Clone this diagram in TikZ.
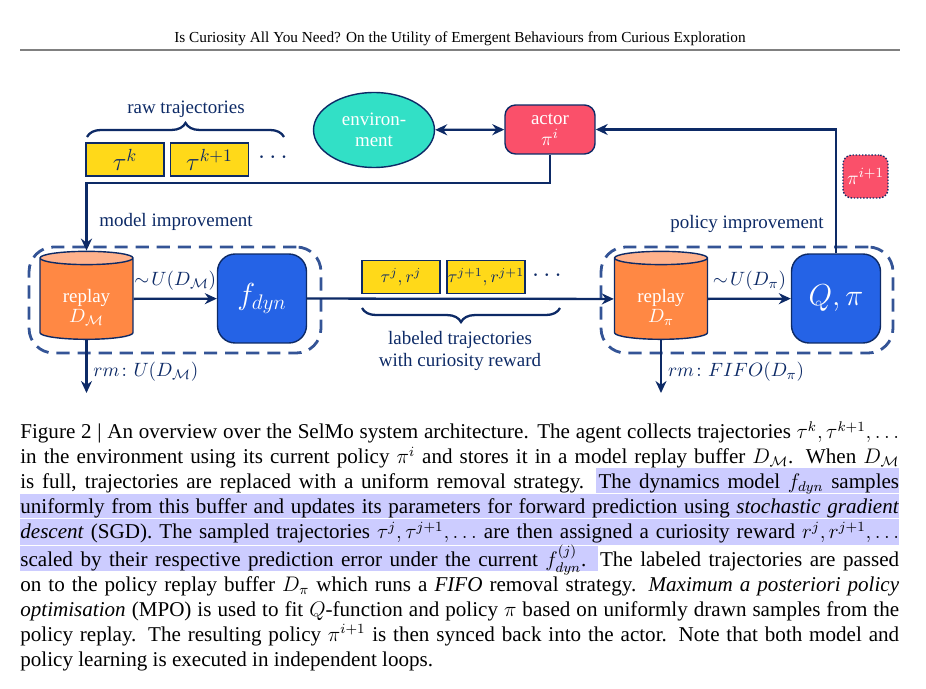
\documentclass[tikz,border=0pt]{standalone}
\usepackage{fontspec}
\setmainfont{Liberation Serif}
\usepackage{amsmath,amssymb}
\usetikzlibrary{shapes.geometric,arrows.meta,positioning,decorations.pathreplacing,backgrounds}
\definecolor{navy}{RGB}{13,42,102}
\definecolor{loopblue}{RGB}{52,84,150}
\definecolor{envteal}{RGB}{50,224,198}
\definecolor{actorred}{RGB}{250,80,106}
\definecolor{trajyellow}{RGB}{255,217,25}
\definecolor{bufferorange}{RGB}{255,136,68}
\definecolor{buffertop}{RGB}{255,178,140}
\definecolor{learnerblue}{RGB}{37,99,230}
\definecolor{marker}{RGB}{204,204,255}

\begin{document}
\begin{tikzpicture}[x=0.02cm, y=-0.02cm,
    font=\fontsize{10.8}{12}\selectfont,
    arrow/.style={-{Stealth[length=2.4mm,width=2.2mm]}, line width=1.3pt, draw=navy},
    twoway/.style={{Stealth[length=2.4mm,width=2.2mm]}-{Stealth[length=2.4mm,width=2.2mm]}, line width=1.3pt, draw=navy},
    trajbox/.style={rectangle, draw=navy, line width=0.8pt, fill=trajyellow, minimum width=1.56cm, minimum height=0.66cm, inner sep=0pt, text=navy},
    buffer/.style={cylinder, shape border rotate=90, aspect=0.28, draw=navy, line width=0.8pt, cylinder uses custom fill, cylinder body fill=bufferorange, cylinder end fill=buffertop, minimum width=1.86cm, minimum height=1.76cm, align=center, inner sep=0pt},
    buffertext/.style={text=white, align=center, inner sep=0pt, font=\fontsize{10.8}{11.4}\selectfont},
    learner/.style={rectangle, rounded corners=10pt, draw=navy, line width=0.8pt, fill=learnerblue, minimum width=1.78cm, minimum height=1.78cm, text=white, font=\LARGE},
    loopbox/.style={rectangle, draw=loopblue, line width=1.6pt, dash pattern=on 7.5pt off 4.5pt, rounded corners=14pt, minimum width=5.84cm, minimum height=2.12cm},
    tag/.style={text=navy},
    brace/.style={decorate, decoration={brace, amplitude=8pt}, line width=1.3pt, draw=navy}
]
\useasboundingbox (0,0) rectangle (926,689);

% Page header
\node[font=\fontsize{8.7}{10}\selectfont] (header) at (460,39) {Is Curiosity All You Need? On the Utility of Emergent Behaviours from Curious Exploration};
\draw[gray, line width=1pt] (20,50) -- (900,50);

% Actor and environment
\node[ellipse, draw=navy, line width=0.8pt, fill=envteal, minimum width=2.42cm, minimum height=1.5cm, text=white, align=center] (env) at (374,130) {environ-\\ment};
\node[rectangle, rounded corners=6pt, draw=navy, line width=0.8pt, fill=actorred, minimum width=1.8cm, minimum height=0.98cm, text=white, align=center, inner sep=1pt] (actor) at (550,129.5) {actor\\$\pi^i$};
\node[rectangle, rounded corners=5pt, draw=navy, densely dotted, line width=0.8pt, fill=actorred, minimum width=0.9cm, minimum height=0.86cm, text=white, inner sep=1pt] (newpolicy) at (865.5,176.5) {$\pi^{i+1}$};

% Raw trajectories
\node[trajbox, font=\Large] (rawk) at (125,159.5) {$\tau^k$};
\node[trajbox, font=\Large] (rawk1) at (209.5,159.5) {$\tau^{k+1}$};
\node[tag, font=\Large] (rawdots) at (275,158) {$\cdots$};
\draw[brace] (87,137) -- (284,137);
\node[tag] (rawlabel) at (186,109) {raw trajectories};

% Model loop
\node[loopbox] (modelloop) at (175,300) {};
\node[buffer] (replayM) at (86.5,299) {\phantom{replay}\\\phantom{$D$}};
\node[buffertext] (replayMtext) at (86.5,307) {replay\\$D_{\mathcal{M}}$};
\node[learner] (fdyn) at (262,298.5) {$f_{dyn}$};
\node[tag] (modellabel) at (176,222) {model improvement};

% Policy loop
\node[loopbox] (policyloop) at (747,300) {};
\node[buffer] (replayP) at (661,299) {\phantom{replay}\\\phantom{$D$}};
\node[buffertext] (replayPtext) at (661,307) {replay\\$D_{\pi}$};
\node[learner] (qpi) at (836,298.5) {$Q,\pi$};
\node[tag] (policylabel) at (747,224) {policy improvement};

% Labeled trajectories
\node[trajbox, font=\fontsize{10}{12}\selectfont] (labj) at (401,277) {$\tau^j,r^j$};
\node[trajbox, font=\fontsize{10}{12}\selectfont] (labj1) at (486,277) {$\tau^{j+1},r^{j+1}$};
\node[tag, font=\Large] (labdots) at (549,276) {$\cdots$};
\draw[brace] (560,308) -- (362,308);
\node[tag, align=center] (lablabel) at (460,351) {labeled trajectories\\with curiosity reward};

% Removal ends
\coordinate (dropM) at (86.5,393);
\coordinate (dropP) at (661,393);

% Arrows
\draw[twoway] (env) -- (actor);
\draw[arrow] (actor.south) -- ++(0,28) -| (replayM.north);
\draw[arrow] (replayM) -- node[tag, above=1pt] {$\sim\! U(D_{\mathcal{M}})$} (fdyn);
\draw[arrow] (fdyn) -- (replayP);
\draw[arrow] (replayP) -- node[tag, above=1pt] {$\sim\! U(D_{\pi})$} (qpi);
\draw[arrow] (qpi.north) |- (actor.east);
\draw[arrow] (replayM.south) -- node[tag, right, pos=0.6] {$rm\colon U(D_{\mathcal{M}})$} (dropM);
\draw[arrow] (replayP.south) -- node[tag, right, pos=0.6] {$rm\colon FIFO(D_{\pi})$} (dropP);

% Caption
\begin{scope}[on background layer]
\fill[marker] (596,468) rectangle (899,493);
\fill[marker] (20,494) rectangle (899,518);
\fill[marker] (20,519) rectangle (899,545);
\fill[marker] (20,546) rectangle (598,571);
\end{scope}
\node[anchor=north west, inner sep=0pt, text width=17.58cm, align=justify, font=\fontsize{12}{14.23}\selectfont] (caption) at (20,421) {%
Figure 2 | An overview over the SelMo system architecture. The agent collects trajectories $\tau^k,\tau^{k+1},\ldots$\linebreak
in the environment using its current policy $\pi^i$ and stores it in a model replay buffer $D_{\mathcal{M}}$. When $D_{\mathcal{M}}$\linebreak
is full, trajectories are replaced with a uniform removal strategy. The dynamics model $f_{dyn}$ samples\linebreak
uniformly from this buffer and updates its parameters for forward prediction using \emph{stochastic gradient}\linebreak
\emph{descent} (SGD). The sampled trajectories $\tau^j,\tau^{j+1},\ldots$ are then assigned a curiosity reward $r^j,r^{j+1},\ldots$\linebreak
scaled by their respective prediction error under the current $f^{(j)}_{dyn}$. The labeled trajectories are passed\linebreak
on to the policy replay buffer $D_\pi$ which runs a \emph{FIFO} removal strategy. \emph{Maximum a posteriori policy}\linebreak
\emph{optimisation} (MPO) is used to fit $Q$-function and policy $\pi$ based on uniformly drawn samples from the\linebreak
policy replay. The resulting policy $\pi^{i+1}$ is then synced back into the actor. Note that both model and\linebreak
policy learning is executed in independent loops.};
\end{tikzpicture}
\end{document}
